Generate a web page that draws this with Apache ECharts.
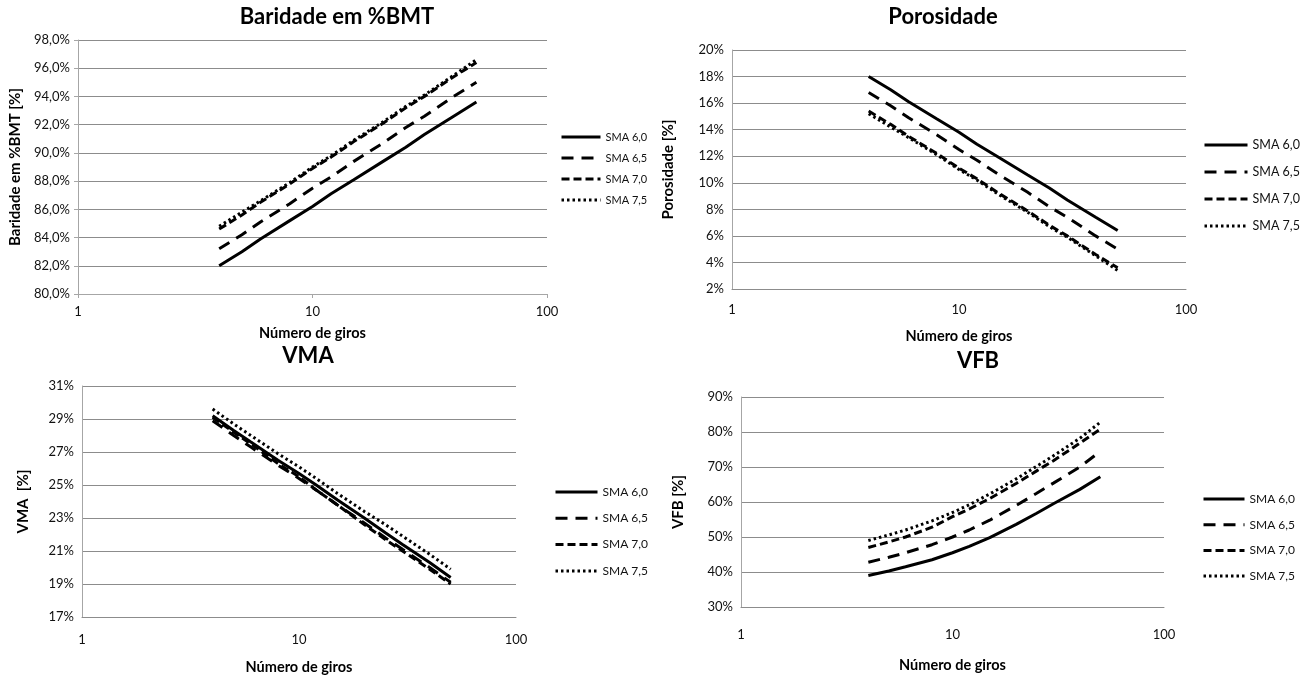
<!DOCTYPE html>
<html>
<head>
<meta charset="utf-8">
<script src="https://cdn.jsdelivr.net/npm/echarts@6/dist/echarts.min.js"></script>
<style>
html,body{margin:0;padding:0;background:#fff;}
#c{width:1313px;height:680px;}
</style>
</head>
<body>
<div id="c"></div>
<script>
// Number of gyrations (x values)
var giros = [4, 5, 6, 8, 10, 12, 15, 20, 25, 30, 40, 50];
var seriesNames = ['SMA 6,0', 'SMA 6,5', 'SMA 7,0', 'SMA 7,5'];
var xTickLabels = ['1', '10', '100'];

// Baridade em %BMT [%]
var bar60 = [82.0, 83.0, 83.9, 85.2, 86.2, 87.1, 88.1, 89.4, 90.4, 91.3, 92.6, 93.6];
var bar65 = [83.2, 84.2, 85.1, 86.4, 87.5, 88.3, 89.4, 90.7, 91.8, 92.6, 94.0, 95.0];
var bar70 = [84.6, 85.6, 86.5, 87.8, 88.9, 89.7, 90.8, 92.1, 93.2, 94.0, 95.4, 96.4];
var bar75 = [84.8, 85.8, 86.6, 87.9, 89.0, 89.8, 90.9, 92.2, 93.3, 94.1, 95.5, 96.6];

// Porosidade [%]
var por60 = [18.0, 17.0, 16.1, 14.8, 13.8, 12.9, 11.9, 10.6, 9.6, 8.7, 7.4, 6.4];
var por65 = [16.8, 15.8, 14.9, 13.6, 12.5, 11.7, 10.6, 9.3, 8.2, 7.4, 6.0, 5.0];
var por70 = [15.4, 14.4, 13.5, 12.2, 11.1, 10.3, 9.2, 7.9, 6.8, 6.0, 4.6, 3.6];
var por75 = [15.2, 14.2, 13.4, 12.1, 11.0, 10.2, 9.1, 7.8, 6.7, 5.9, 4.5, 3.4];

// VMA [%]
var vma60 = [29.2, 28.3, 27.6, 26.5, 25.7, 25.0, 24.1, 23.0, 22.1, 21.4, 20.3, 19.4];
var vma65 = [28.9, 28.0, 27.3, 26.2, 25.4, 24.7, 23.8, 22.7, 21.8, 21.1, 20.0, 19.1];
var vma70 = [29.1, 28.2, 27.5, 26.3, 25.5, 24.7, 23.8, 22.6, 21.7, 21.0, 19.9, 19.0];
var vma75 = [29.6, 28.7, 28.0, 26.9, 26.1, 25.4, 24.5, 23.4, 22.6, 21.9, 20.8, 19.9];

// VFB [%]
var vfb60 = [39.0, 40.3, 41.5, 43.5, 45.5, 47.3, 49.8, 53.6, 56.8, 59.5, 63.6, 67.2];
var vfb65 = [42.8, 44.2, 45.5, 47.8, 50.0, 52.0, 54.8, 59.0, 62.5, 65.4, 70.0, 74.5];
var vfb70 = [47.0, 48.6, 50.0, 52.8, 55.8, 58.0, 61.0, 65.3, 68.9, 71.8, 76.8, 80.8];
var vfb75 = [49.0, 50.6, 52.0, 54.6, 57.0, 59.2, 62.3, 66.6, 70.2, 73.2, 78.2, 82.8];

var FONT = 'Lato';
var GRID_C = '#8c8c8c';
var AXIS_C = '#a6a6a6';
var dashTypes = ['solid', [12, 8], [8, 4], [2.5, 3]];

function pairs(vals) {
  return giros.map(function (g, i) { return [g, vals[i]]; });
}

var panels = [
  { title: 'Baridade em %BMT', tx: 337, ty: 6, yName: 'Baridade em %BMT [%]',
    grid: { left: 78, top: 40, width: 469, height: 254 },
    y: { min: 80, max: 98, interval: 2, dec: 1 }, ticks: true,
    xLabelMargin: 11, xNameGap: 32, yNameGap: 55,
    data: [bar60, bar65, bar70, bar75],
    legend: { left: 560, top: 130, itemWidth: 39, itemHeight: 14, gap: 7, fs: 11 } },
  { title: 'Porosidade', tx: 943, ty: 6, yName: 'Porosidade [%]',
    grid: { left: 732, top: 50, width: 454, height: 239 },
    y: { min: 2, max: 20, interval: 2, dec: 0 }, ticks: false,
    xLabelMargin: 14, xNameGap: 40, yNameGap: 56,
    data: [por60, por65, por70, por75],
    legend: { left: 1203, top: 137, itemWidth: 43, itemHeight: 16, gap: 11, fs: 12.5 } },
  { title: 'VMA', tx: 308, ty: 345, yName: 'VMA  [%]',
    grid: { left: 82, top: 386, width: 434, height: 231 },
    y: { min: 17, max: 31, interval: 2, dec: 0 }, ticks: false,
    xLabelMargin: 16, xNameGap: 43, yNameGap: 51,
    data: [vma60, vma65, vma70, vma75],
    legend: { left: 554, top: 484, itemWidth: 42, itemHeight: 16, gap: 10.3, fs: 12 } },
  { title: 'VFB', tx: 978, ty: 350, yName: 'VFB [%]',
    grid: { left: 741, top: 397, width: 423, height: 210 },
    y: { min: 30, max: 90, interval: 10, dec: 0 }, ticks: false,
    xLabelMargin: 21, xNameGap: 51, yNameGap: 55,
    data: [vfb60, vfb65, vfb70, vfb75],
    legend: { left: 1202, top: 491, itemWidth: 41, itemHeight: 16, gap: 9.7, fs: 12 } }
];

var option = {
  backgroundColor: '#ffffff',
  animation: false,
  title: [], grid: [], xAxis: [], yAxis: [], legend: [], series: []
};

panels.forEach(function (p, k) {
  option.title.push({
    text: p.title, left: p.tx, top: p.ty, textAlign: 'center', padding: 0,
    textStyle: { fontFamily: FONT, fontWeight: 'bold', fontSize: 22, color: '#000' }
  });
  option.grid.push({ left: p.grid.left, top: p.grid.top, width: p.grid.width, height: p.grid.height, containLabel: false });
  option.xAxis.push({
    gridIndex: k, type: 'log', logBase: 10, min: 1, max: 100,
    name: 'Número de giros', nameLocation: 'middle', nameGap: p.xNameGap,
    nameTextStyle: { fontFamily: FONT, fontWeight: 'bold', fontSize: 14.5, color: '#000' },
    axisLine: { show: true, lineStyle: { color: k === 0 ? AXIS_C : GRID_C, width: 1 } },
    axisTick: { show: p.ticks, length: 4, lineStyle: { color: AXIS_C } },
    minorTick: { show: false },
    splitLine: { show: false },
    axisLabel: {
      margin: p.xLabelMargin, fontFamily: FONT, fontSize: 13, color: '#111',
      formatter: function (v) {
        var i = Math.round(Math.log10(v));
        return xTickLabels[i] !== undefined ? xTickLabels[i] : '';
      }
    }
  });
  option.yAxis.push({
    gridIndex: k, type: 'value', min: p.y.min, max: p.y.max, interval: p.y.interval,
    name: p.yName, nameLocation: 'middle', nameGap: p.yNameGap, nameRotate: 90,
    nameTextStyle: { fontFamily: FONT, fontWeight: 'bold', fontSize: 15, color: '#000' },
    axisLine: { show: true, lineStyle: { color: AXIS_C, width: 1 } },
    axisTick: { show: p.ticks, length: 4, lineStyle: { color: AXIS_C } },
    splitLine: { show: true, lineStyle: { color: GRID_C, width: 1 } },
    axisLabel: {
      margin: 8, fontFamily: FONT, fontSize: 13, color: '#111',
      formatter: (function (dec) {
        return function (v) { return v.toFixed(dec).replace('.', ',') + '%'; };
      })(p.y.dec)
    }
  });
  option.legend.push({
    orient: 'vertical', left: p.legend.left, top: p.legend.top,
    itemWidth: p.legend.itemWidth, itemHeight: p.legend.itemHeight, itemGap: p.legend.gap,
    padding: 0, selectedMode: false,
    data: seriesNames.slice(),
    lineStyle: { width: 3 },
    itemStyle: { opacity: 0 },
    textStyle: { fontFamily: FONT, fontSize: p.legend.fs, color: '#111', lineHeight: p.legend.itemHeight }
  });
  p.data.forEach(function (vals, i) {
    option.series.push({
      type: 'line', name: seriesNames[i], xAxisIndex: k, yAxisIndex: k,
      data: pairs(vals), symbol: 'none', showSymbol: false, smooth: false,
      lineStyle: { color: '#000', width: 3, type: dashTypes[i] },
      itemStyle: { color: '#000' },
      z: 3 + i
    });
  });
});

var chart = echarts.init(document.getElementById('c'), null, { renderer: 'canvas' });
chart.setOption(option);
</script>
</body>
</html>
